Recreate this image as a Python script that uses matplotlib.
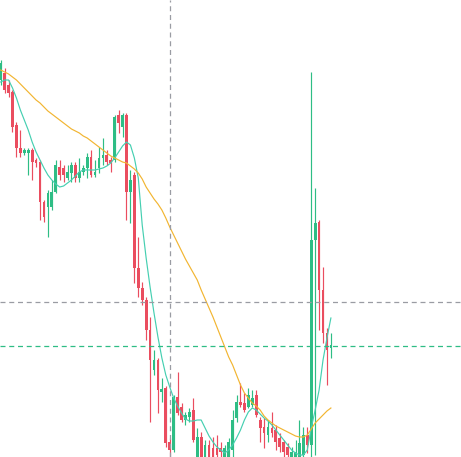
import matplotlib
matplotlib.use('Agg')
import matplotlib.pyplot as plt
import numpy as np

# candle data (price units)
opens = [377, 384, 372, 365, 332, 309, 304, 304, 307, 297,
         295, 255, 250, 250, 265, 290, 289, 279, 284, 292,
         279, 285, 289, 300, 282, 289, 299, 302, 297, 297,
         342, 330, 342, 265, 282, 189, 169, 157, 127, 87,
         97, 65, 69, 15, 7, 60, 50, 37, 40, 47,
         -3, 20, -8, 12, 9, 9, 9, -1, -1, 7,
         39, 55, 54, 50, 52, 62, 37, 30, 22, 29,
         27, 19, 15, 10, -3, -8, 0, 2, 22, 12,
         217, 235, 167, 124, 109]
highs = [397, 389, 377, 367, 335, 327, 309, 309, 309, 299,
         297, 257, 267, 277, 297, 297, 292, 292, 295, 295,
         299, 292, 304, 307, 297, 310, 319, 307, 300, 342,
         347, 344, 344, 287, 285, 220, 175, 160, 140, 107,
         99, 79, 71, 19, 62, 85, 54, 45, 49, 59,
         29, 25, 17, 17, 20, 22, 15, 12, 19, 47,
         62, 74, 64, 69, 67, 67, 40, 39, 37, 45,
         32, 24, 17, 14, 10, 17, 37, 30, 30, 385,
         269, 237, 190, 129, 124]
lows = [372, 364, 360, 325, 300, 300, 302, 282, 277, 290,
        237, 235, 220, 247, 264, 277, 275, 277, 275, 275,
        275, 282, 279, 280, 280, 284, 292, 292, 285, 295,
        324, 320, 237, 234, 174, 160, 152, 117, 35, 82,
        44, 55, 10, -3, 5, 42, 35, 32, 35, 15,
        -5, -8, -13, -8, -8, -8, -1, -8, -5, 0,
        35, 50, 45, 49, 50, 40, 15, 9, 15, 20,
        7, 5, 0, -3, -8, -13, -5, -3, 4, 0,
        2, 127, 114, 72, 99]
closes = [394, 367, 364, 330, 309, 304, 307, 307, 295, 294,
          255, 240, 264, 265, 292, 282, 282, 285, 292, 279,
          285, 289, 300, 282, 285, 299, 302, 295, 294, 340,
          334, 342, 265, 277, 189, 169, 157, 127, 97, 97,
          67, 68, 14, 7, 60, 44, 37, 42, 45, 17,
          20, -3, 12, -3, -3, 2, 5, 9, 15, 37,
          55, 52, 47, 62, 59, 42, 29, 24, 30, 24,
          15, 10, 5, 2, 5, 5, 14, 22, 12, 217,
          234, 167, 124, 107, 112]

# moving averages as drawn
ma_short = [375, 377, 377, 369, 359, 347, 337, 327, 315, 305,
            297, 289, 282, 277, 273, 270, 271, 274, 277, 281,
            285, 287, 287, 287, 287, 288, 289, 291, 294, 299,
            305, 311, 315, 312, 299, 279, 232, 199, 170, 144,
            120, 99, 82, 70, 59, 51, 44, 38, 36, 36,
            37, 37, 29, 21, 15, 10, 7, 4, 7, 12,
            19, 27, 37, 45, 49, 47, 43, 39, 36, 32,
            27, 22, 17, 12, 7, 4, 2, 2, 7, 29,
            47, 67, 97, 119, 139]
ma_long = [387, 385, 383, 380, 377, 373, 369, 365, 361, 357,
           354, 350, 346, 343, 340, 337, 334, 331, 328, 326,
           324, 321, 319, 316, 313, 310, 307, 304, 301, 299,
           297, 295, 294, 291, 288, 284, 278, 270, 264, 258,
           253, 247, 239, 230, 222, 214, 206, 198, 191, 184,
           177, 167, 158, 149, 140, 130, 120, 110, 100, 92,
           82, 72, 64, 59, 54, 51, 47, 41, 37, 34,
           31, 29, 27, 25, 23, 21, 20, 20, 22, 28,
           34, 38, 42, 46, 49]

crosshair_index = 43
crosshair_price = 155
last_price = 111

UP = '#2ebd85'
DOWN = '#ea4d5f'

fig = plt.figure(figsize=(4.61, 4.57), dpi=100)
ax = fig.add_axes([0, 0, 1, 1])
ax.set_facecolor('white')

x = np.arange(len(opens))
o = np.array(opens)
c = np.array(closes)
colors = [UP if cc >= oo else DOWN for oo, cc in zip(o, c)]

ax.vlines(x, lows, highs, colors=colors, linewidth=0.85, zorder=2)
body = np.where(np.abs(c - o) < 1, 1, c - o)
ax.bar(x, body, bottom=o, width=0.7, color=colors, linewidth=0, zorder=3)

ax.plot(x, ma_short, color='#45cfb1', linewidth=0.85, zorder=4)
ax.plot(x, ma_long, color='#f2b531', linewidth=0.85, zorder=4)

ax.axvline(crosshair_index, color='#9a9ca3', linewidth=0.9, dashes=(4, 3), zorder=5)
ax.axhline(crosshair_price, color='#9a9ca3', linewidth=0.9, dashes=(4, 3), zorder=5)
ax.axhline(last_price, color='#2ebd85', linewidth=0.9, dashes=(4, 3), zorder=5)

ax.set_xlim(-0.18, 117.1)
ax.set_ylim(0, 457)
ax.axis('off')

fig.savefig('out.png', dpi=100, facecolor='white')
